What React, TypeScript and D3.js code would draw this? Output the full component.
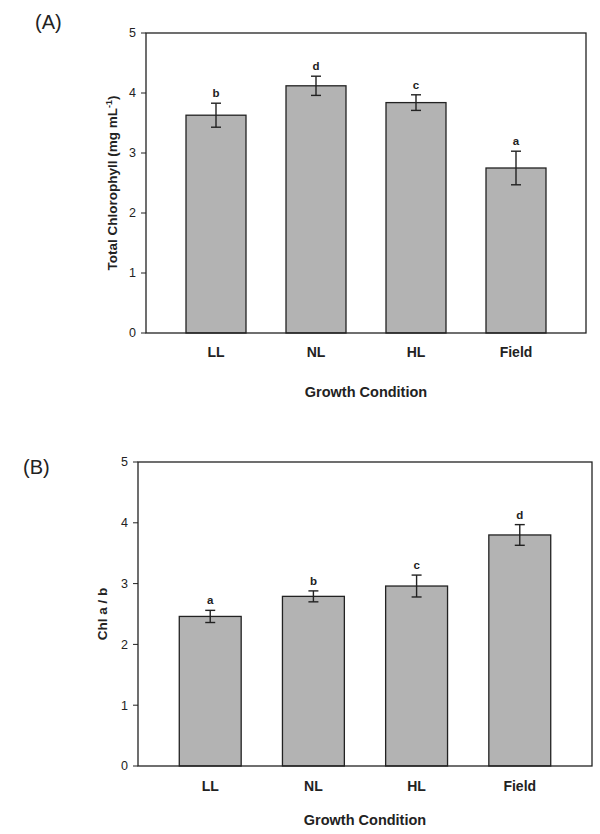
import React from "react";
import * as d3 from "d3";

const categories = ["LL", "NL", "HL", "Field"];
const chlTotal = [3.63, 4.12, 3.84, 2.75];
const chlTotalErr = [0.2, 0.16, 0.13, 0.28];
const chlTotalLetters = ["b", "d", "c", "a"];
const chlRatio = [2.46, 2.79, 2.96, 3.8];
const chlRatioErr = [0.1, 0.09, 0.18, 0.17];
const chlRatioLetters = ["a", "b", "c", "d"];
const yTicks = [0, 1, 2, 3, 4, 5];

const FONT = "'Liberation Sans', Arial, sans-serif";
const INK = "#222";

type PanelProps = {
  tag: string;
  tagX: number;
  tagY: number;
  left: number;
  right: number;
  top: number;
  bottom: number;
  values: number[];
  errs: number[];
  letters: string[];
  yLabel: React.ReactNode;
  yLabelX: number;
  xLabelY: number;
  xTitleY: number;
  tickLen: number;
};

function Panel(p: PanelProps) {
  const x = d3
    .scaleBand<string>()
    .domain(categories)
    .range([p.left, p.right])
    .paddingInner(0.4)
    .paddingOuter(0.4);
  const y = d3.scaleLinear().domain([0, 5]).range([p.bottom, p.top]);
  const bw = x.bandwidth();
  const cap = 5;
  return (
    <g>
      <text x={p.tagX} y={p.tagY} fontFamily={FONT} fontSize={20} fill={INK}>
        {p.tag}
      </text>
      {categories.map((c, i) => {
        const x0 = x(c)!;
        const cx = x0 + bw / 2;
        const yv = y(p.values[i]);
        const yHi = y(p.values[i] + p.errs[i]);
        const yLo = y(p.values[i] - p.errs[i]);
        return (
          <g key={c}>
            <rect
              x={x0}
              y={yv}
              width={bw}
              height={p.bottom - yv}
              fill="#b3b3b3"
              stroke={INK}
              strokeWidth={1.3}
            />
            <line x1={cx} x2={cx} y1={yHi} y2={yLo} stroke={INK} strokeWidth={1.4} />
            <line x1={cx - cap} x2={cx + cap} y1={yHi} y2={yHi} stroke={INK} strokeWidth={1.4} />
            <line x1={cx - cap} x2={cx + cap} y1={yLo} y2={yLo} stroke={INK} strokeWidth={1.4} />
            <text
              x={cx}
              y={yHi - 6}
              textAnchor="middle"
              fontFamily={FONT}
              fontWeight="bold"
              fontSize={11.5}
              fill={INK}
            >
              {p.letters[i]}
            </text>
            <text
              x={cx}
              y={p.xLabelY}
              textAnchor="middle"
              fontFamily={FONT}
              fontWeight="bold"
              fontSize={14}
              fill={INK}
            >
              {c}
            </text>
          </g>
        );
      })}
      <rect
        x={p.left}
        y={p.top}
        width={p.right - p.left}
        height={p.bottom - p.top}
        fill="none"
        stroke={INK}
        strokeWidth={1.3}
      />
      {yTicks.map((t) => (
        <g key={t}>
          <line
            x1={p.left - p.tickLen}
            x2={p.left}
            y1={y(t)}
            y2={y(t)}
            stroke={INK}
            strokeWidth={1}
          />
          <text
            x={p.left - p.tickLen - 5}
            y={y(t)}
            dy="0.35em"
            textAnchor="end"
            fontFamily={FONT}
            fontSize={12.5}
            fill={INK}
          >
            {t}
          </text>
        </g>
      ))}
      <text
        transform={`translate(${p.yLabelX},${(p.top + p.bottom) / 2}) rotate(-90)`}
        textAnchor="middle"
        fontFamily={FONT}
        fontWeight="bold"
        fontSize={13.5}
        fill={INK}
      >
        {p.yLabel}
      </text>
      <text
        x={(p.left + p.right) / 2}
        y={p.xTitleY}
        textAnchor="middle"
        fontFamily={FONT}
        fontWeight="bold"
        fontSize={14.5}
        fill={INK}
      >
        Growth Condition
      </text>
    </g>
  );
}

export default function App() {
  return (
    <svg
      width={600}
      height={834}
      style={{ position: "absolute", left: 0, top: 0, background: "#fff" }}
    >
      <rect x={0} y={0} width={600} height={834} fill="#fff" />
      <Panel
        tag="(A)"
        tagX={35}
        tagY={29}
        left={146}
        right={586}
        top={33}
        bottom={333}
        values={chlTotal}
        errs={chlTotalErr}
        letters={chlTotalLetters}
        yLabel={
          <>
            Total Chlorophyll (mg mL
            <tspan fontSize={9} dy={-5}>-1</tspan>
            <tspan dy={5}>)</tspan>
          </>
        }
        yLabelX={117}
        xLabelY={357}
        xTitleY={397}
        tickLen={5}
      />
      <Panel
        tag="(B)"
        tagX={23}
        tagY={474}
        left={138}
        right={592}
        top={462}
        bottom={766}
        values={chlRatio}
        errs={chlRatioErr}
        letters={chlRatioLetters}
        yLabel="Chl a / b"
        yLabelX={107}
        xLabelY={791}
        xTitleY={825}
        tickLen={5}
      />
    </svg>
  );
}
